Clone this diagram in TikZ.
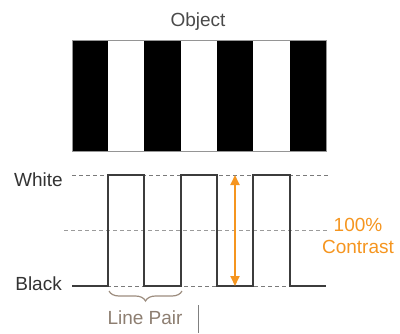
\documentclass[tikz,border=0pt]{standalone}
\usepackage{fontspec}
\setmainfont{Liberation Sans}
\usetikzlibrary{arrows.meta,decorations.pathreplacing}
\definecolor{wavegray}{HTML}{3C3C3C}
\definecolor{dashgray}{HTML}{7A7A7A}
\definecolor{labelgray}{HTML}{333333}
\definecolor{titlegray}{HTML}{4A4A4A}
\definecolor{bracebrown}{HTML}{9C8C7E}
\definecolor{contrastorange}{HTML}{F5951F}
\tikzset{
  lbl/.style={inner sep=0pt, font=\fontsize{19}{22}\selectfont},
  levelline/.style={draw=dashgray, line width=1pt, dash pattern=on 4pt off 3pt},
  wave/.style={draw=wavegray, line width=1.5pt, line join=miter},
  stripe/.style={fill=black},
}
\begin{document}
\begin{tikzpicture}[x=1pt,y=-1pt]
  \useasboundingbox (0,0) rectangle (400,333);

  % the object: alternating black and white bars
  \foreach \a/\b in {72/108,144/181,217/253,290/326}
    \fill[stripe] (\a,40) rectangle (\b,151);
  \draw[dashgray!80, line width=0.7pt] (72,40) rectangle (326,151);
  \node[lbl, text=titlegray, anchor=base] (title) at (198,26) {Object};

  % reference levels
  \coordinate (wl) at (72,175);  \coordinate (wr) at (328,175);
  \coordinate (ml) at (64,230);  \coordinate (mr) at (328,230);
  \coordinate (bl) at (72,286);  \coordinate (br) at (326,286);
  \draw[levelline] (wl) -- (wr);
  \draw[levelline, draw=dashgray!75] (ml) -- (mr);
  \draw[levelline] (bl) -- (br);

  % intensity profile across the bars
  \draw[wave] (72,286) -- (108,286) -- (108,175) -- (144,175) -- (144,286)
    -- (181,286) -- (181,175) -- (217,175) -- (217,286) -- (253,286)
    -- (253,175) -- (290,175) -- (290,286) -- (326,286);

  \node[lbl, text=labelgray, anchor=base east] (white) at (63,186) {White};
  \node[lbl, text=labelgray, anchor=base east] (black) at (62,290) {Black};

  % contrast arrow
  \coordinate (atop) at (235,175);
  \coordinate (abot) at (235,286);
  \draw[contrastorange, line width=1.8pt,
        {Triangle[width=9pt,length=10pt]}-{Triangle[width=9pt,length=10pt]}]
    (atop) -- (abot);
  \node[lbl, text=contrastorange, anchor=base] (pct) at (358,231) {100\%};
  \node[lbl, text=contrastorange, anchor=base] (ctr) at (358,253) {Contrast};

  % one line pair
  \coordinate (lp1) at (109,291);
  \coordinate (lp2) at (182,291);
  \draw[bracebrown, line width=1.2pt,
        decorate, decoration={brace, mirror, amplitude=10pt, aspect=0.5}] (lp1) -- (lp2);
  \node[lbl, text=bracebrown!90!black, anchor=base] (lp) at (145,324) {Line Pair};

  % cursor mark
  \coordinate (c1) at (198,305);
  \coordinate (c2) at (198,333);
  \draw[gray, line width=1pt] (c1) -- (c2);
\end{tikzpicture}
\end{document}
